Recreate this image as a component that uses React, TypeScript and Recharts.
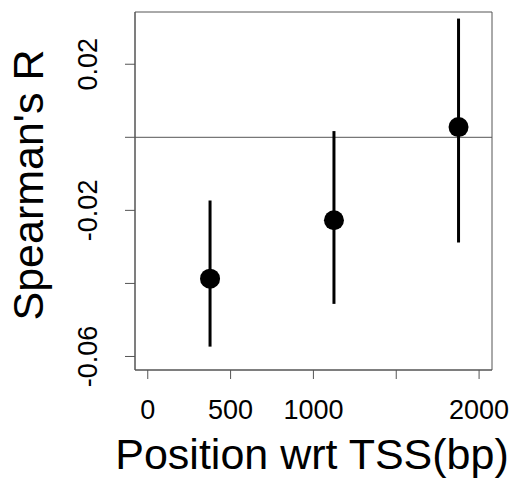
import React from 'react';
import {
  ScatterChart,
  Scatter,
  XAxis,
  YAxis,
  ErrorBar,
  ReferenceLine,
  ReferenceArea,
} from 'recharts';

// positions (bp) and Spearman correlations, with lower/upper interval ends
const positions = [376, 1124, 1876];
const rhoValues = [-0.0387, -0.0227, 0.0028];
const lowerBounds = [-0.0573, -0.0456, -0.0288];
const upperBounds = [-0.0173, 0.0017, 0.0325];

const xTicks = [0, 500, 1000, 1500, 2000];
const xTickLabels = ['0', '500', '1000', '', '2000'];
const yTicks = [-0.06, -0.04, -0.02, 0, 0.02];
const yTickLabels = ['-0.06', '', '-0.02', '', '0.02'];

const xDomain = [-77, 2078];
const yDomain = [-0.0637, 0.0343];

const data = positions.map((x, i) => ({
  x,
  y: rhoValues[i],
  err: [rhoValues[i] - lowerBounds[i], upperBounds[i] - rhoValues[i]],
}));

const FONT = '"Liberation Sans", Arial, sans-serif';
const AXIS_COLOR = '#555';

const XTick = (props: any) => {
  const idx = xTicks.indexOf(props.payload.value);
  const label = idx >= 0 ? xTickLabels[idx] : '';
  return (
    <text x={props.x} y={props.y + 40} textAnchor="middle" fontSize={27} fontFamily={FONT} fill="#000">
      {label}
    </text>
  );
};

const YTick = (props: any) => {
  const idx = yTicks.findIndex((t) => Math.abs(t - props.payload.value) < 1e-9);
  const label = idx >= 0 ? yTickLabels[idx] : '';
  const tx = props.x - 28;
  return (
    <text
      x={tx}
      y={props.y}
      transform={`rotate(-90, ${tx}, ${props.y})`}
      textAnchor="middle"
      fontSize={27}
      fontFamily={FONT}
      fill="#000"
    >
      {label}
    </text>
  );
};

const Dot = (props: any) => <circle cx={props.cx} cy={props.cy} r={10} fill="#000" />;

export default function App() {
  return (
    <div style={{ position: 'absolute', left: 0, top: 0, background: '#fff' }}>
      <ScatterChart width={513} height={482} margin={{ top: 12, right: 21, bottom: 0, left: 0 }}>
        <XAxis
          type="number"
          dataKey="x"
          domain={xDomain}
          ticks={xTicks}
          interval={0}
          allowDataOverflow
          tickSize={9}
          tickMargin={0}
          height={112}
          stroke={AXIS_COLOR}
          tick={<XTick />}
          label={() => (
            <text x={312} y={469} textAnchor="middle" fontSize={43} fontFamily={FONT} fill="#000">
              Position wrt TSS(bp)
            </text>
          )}
        />
        <YAxis
          type="number"
          dataKey="y"
          domain={yDomain}
          ticks={yTicks}
          interval={0}
          allowDataOverflow
          tickSize={10}
          tickMargin={0}
          width={135}
          stroke={AXIS_COLOR}
          tick={<YTick />}
          label={() => (
            <text
              x={43}
              y={185}
              transform="rotate(-90, 43, 185)"
              textAnchor="middle"
              fontSize={43}
              fontFamily={FONT}
              fill="#000"
            >
              Spearman's R
            </text>
          )}
        />
        <ReferenceArea
          x1={xDomain[0]}
          x2={xDomain[1]}
          y1={yDomain[0]}
          y2={yDomain[1]}
          fill="none"
          stroke={AXIS_COLOR}
          strokeWidth={1}
          fillOpacity={0}
        />
        <ReferenceLine y={0} stroke={AXIS_COLOR} strokeWidth={1} />
        <Scatter data={data} shape={<Dot />} isAnimationActive={false}>
          <ErrorBar
            dataKey="err"
            direction="y"
            width={0}
            strokeWidth={3}
            stroke="#000"
            isAnimationActive={false}
          />
        </Scatter>
      </ScatterChart>
    </div>
  );
}
